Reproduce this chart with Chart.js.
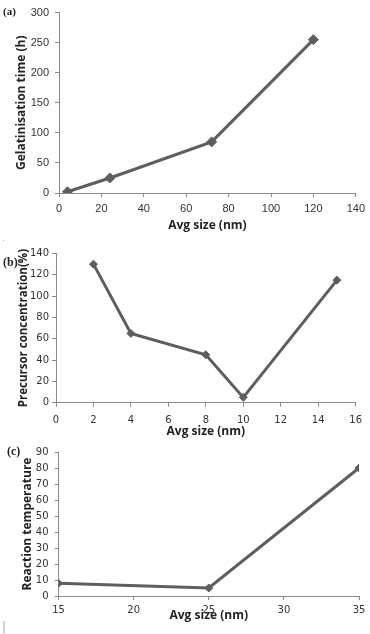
<!DOCTYPE html>
<html>
<head>
<meta charset="utf-8">
<script src="https://cdn.jsdelivr.net/npm/chart.js@4.4.1/dist/chart.umd.min.js"></script>
<style>
  html, body { margin: 0; padding: 0; background: #fff; }
  body { width: 370px; height: 634px; position: relative; overflow: hidden; }
  canvas { position: absolute; left: 0; }
  .lbl { position: absolute; font-family: "Liberation Serif", serif; font-weight: bold; color: #222; line-height: 1; }
  .mark { position: absolute; font-family: "DejaVu Sans", sans-serif; color: #aaa; line-height: 1; }
</style>
</head>
<body>
<canvas id="ca" width="370" height="240" style="top:0px"></canvas>
<canvas id="cb" width="370" height="200" style="top:240px"></canvas>
<canvas id="cc" width="370" height="194" style="top:440px"></canvas>
<div class="lbl" style="left:3px;top:6px;font-size:11px;">(a)</div>
<div class="lbl" style="left:3px;top:256px;font-size:12px;">(b)</div>
<div class="lbl" style="left:7px;top:445px;font-size:12px;">(c)</div>
<div class="mark" style="left:2px;top:234px;font-size:9px;">.</div>
<div class="mark" style="left:2px;top:621px;font-size:12px;">|</div>
<script>
// ---- Data ----
const sizesA = [4, 24, 72, 120];
const gelTimeA = [2, 25, 85, 255];

const sizesB = [2, 4, 8, 10, 15];
const precursorB = [130, 65, 45, 5, 115];

const sizesC = [15, 25, 35];
const tempC = [8, 5, 80];

const xTitle = "Avg size (nm)";
const yTitleA = "Gelatinisation time (h)";
const yTitleB = "Precursor concentration(%)";
const yTitleC = "Reaction temperature";

const xTicksA = { min: 0, max: 140, step: 20 };
const yTicksA = { min: 0, max: 300, step: 50 };
const xTicksB = { min: 0, max: 16, step: 2 };
const yTicksB = { min: 0, max: 140, step: 20 };
const xTicksC = { min: 15, max: 35, step: 5 };
const yTicksC = { min: 0, max: 90, step: 10 };

const LINE = '#5e5e5e';
const AXIS = '#8a8a8a';
const TITLE_FONT = '"Liberation Sans Narrow", "Open Sans", sans-serif';

function makeChart(id, xs, ys, xt, yt, xLabel, yLabel, cfg) {
  const pts = xs.map((x, i) => ({ x: x, y: ys[i] }));
  return new Chart(document.getElementById(id), {
    type: 'scatter',
    data: {
      datasets: [{
        data: pts,
        showLine: true,
        borderColor: LINE,
        backgroundColor: LINE,
        borderWidth: 3,
        pointStyle: 'rectRot',
        pointRadius: cfg.pr,
        pointBorderWidth: 1,
        pointBorderColor: LINE,
        pointBackgroundColor: LINE,
        tension: 0
      }]
    },
    options: {
      responsive: false,
      animation: false,
      layout: { padding: { left: 0, top: cfg.top, right: cfg.W - cfg.right, bottom: 0 } },
      plugins: { legend: { display: false }, tooltip: { enabled: false } },
      scales: {
        x: {
          type: 'linear',
          min: xt.min, max: xt.max,
          afterFit: s => { s.height = cfg.H - cfg.bottom; },
          ticks: { stepSize: xt.step, color: '#333', padding: cfg.xpad, maxRotation: 0,
                   font: { family: cfg.tickFamily, size: cfg.tickSize } },
          grid: { display: true, drawOnChartArea: false, drawTicks: true, tickLength: 4, color: AXIS, lineWidth: 1 },
          border: { display: true, color: AXIS, width: 1 },
          title: { display: true, text: xLabel, color: '#222',
                   font: { family: TITLE_FONT, size: 12, weight: 'bold' },
                   padding: { top: 0, bottom: cfg.xtpad } }
        },
        y: {
          type: 'linear',
          min: yt.min, max: yt.max,
          afterFit: s => { s.width = cfg.left; },
          ticks: { stepSize: yt.step, color: '#333', padding: cfg.ypad,
                   font: { family: cfg.tickFamily, size: cfg.tickSize } },
          grid: { display: true, drawOnChartArea: false, drawTicks: true, tickLength: 4, color: AXIS, lineWidth: 1 },
          border: { display: true, color: AXIS, width: 1 },
          title: { display: true, text: yLabel, color: '#222',
                   font: { family: TITLE_FONT, size: cfg.ytSize, weight: 'bold' },
                   padding: { top: cfg.ytpad, bottom: 0 } }
        }
      }
    }
  });
}

makeChart('ca', sizesA, gelTimeA, xTicksA, yTicksA, xTitle, yTitleA, {
  W: 370, H: 240, left: 59, right: 358, top: 12, bottom: 193,
  xpad: 5, ypad: 6, xtpad: 6.8, ytpad: 14.3, ytSize: 12, pr: 5,
  tickFamily: '"Liberation Sans", Arial, sans-serif', tickSize: 11
});
makeChart('cb', sizesB, precursorB, xTicksB, yTicksB, xTitle, yTitleB, {
  W: 370, H: 200, left: 56, right: 362, top: 13.5, bottom: 162.7,
  xpad: 8, ypad: 3, xtpad: 1.5, ytpad: 16.5, ytSize: 11.5, pr: 4,
  tickFamily: '"DejaVu Sans", sans-serif', tickSize: 10
});
makeChart('cc', sizesC, tempC, xTicksC, yTicksC, xTitle, yTitleC, {
  W: 370, H: 194, left: 58.5, right: 359, top: 9.5, bottom: 156,
  xpad: 4, ypad: 6, xtpad: 11, ytpad: 20, ytSize: 12, pr: 4,
  tickFamily: '"DejaVu Sans", sans-serif', tickSize: 10
});
</script>
</body>
</html>
